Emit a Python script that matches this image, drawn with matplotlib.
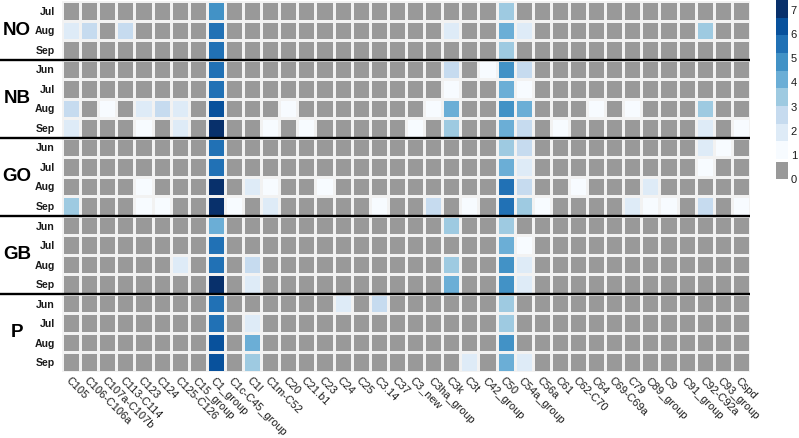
import numpy as np
import matplotlib
matplotlib.use("Agg")
import matplotlib.pyplot as plt
from matplotlib.colors import ListedColormap, BoundaryNorm
from matplotlib.transforms import blended_transform_factory

plt.rcParams['font.family'] = ['Liberation Sans', 'DejaVu Sans']

# ---------------- data ----------------
columns = ["C105", "C106-C106a", "C107a-C107b", "C113-C114", "C123", "C124",
           "C125-C126", "C15_group", "C1_group", "C1c-C45_group", "C1l", "C1m-C52",
           "C20", "C21.b1", "C23", "C24", "C25", "C3.14", "C37", "C3_new",
           "C3ha_group", "C3k", "C3t", "C42_group", "C50", "C54a_group", "C56a",
           "C61", "C62-C70", "C64", "C69-C69a", "C79", "C89_group", "C9",
           "C91_group", "C92-C92a", "C93_group", "Cspd"]

sites = ["NO", "NB", "GO", "GB", "P"]
site_months = {
    "NO": ["Jul", "Aug", "Sep"],
    "NB": ["Jun", "Jul", "Aug", "Sep"],
    "GO": ["Jun", "Jul", "Aug", "Sep"],
    "GB": ["Jun", "Jul", "Aug", "Sep"],
    "P":  ["Jun", "Jul", "Aug", "Sep"],
}

# non-zero values per row (column name -> value); all other cells are 0
NO_values = [
    {"C1_group": 4.9, "C50": 3.4},
    {"C105": 1.9, "C106-C106a": 2.7, "C113-C114": 2.7, "C1_group": 5.6, "C3k": 1.9,
     "C50": 4.1, "C54a_group": 1.9, "C92-C92a": 3.4},
    {"C1_group": 5.6, "C50": 3.4},
]
NB_values = [
    {"C1_group": 5.6, "C3k": 2.7, "C42_group": 1.2, "C50": 4.9, "C54a_group": 2.7},
    {"C1_group": 5.6, "C3k": 1.2, "C50": 4.1, "C54a_group": 1.2},
    {"C105": 2.7, "C107a-C107b": 1.2, "C123": 1.9, "C124": 2.7, "C125-C126": 1.9,
     "C1_group": 6.3, "C20": 1.2, "C3ha_group": 1.2, "C3k": 4.1, "C50": 4.9,
     "C54a_group": 4.1, "C64": 1.2, "C79": 1.2, "C92-C92a": 3.4},
    {"C105": 1.9, "C123": 1.2, "C125-C126": 1.9, "C1_group": 7.0, "C1m-C52": 1.2,
     "C21.b1": 1.2, "C3_new": 1.2, "C3k": 3.4, "C50": 4.1, "C54a_group": 2.7,
     "C61": 1.2, "C92-C92a": 1.9, "Cspd": 1.2},
]
GO_values = [
    {"C1_group": 5.6, "C50": 3.4, "C54a_group": 2.7, "C92-C92a": 1.9, "C93_group": 1.2},
    {"C1_group": 5.6, "C50": 4.1, "C54a_group": 1.9, "C92-C92a": 1.2},
    {"C123": 1.2, "C1_group": 7.0, "C1l": 1.9, "C1m-C52": 1.2, "C23": 1.2,
     "C50": 5.6, "C54a_group": 2.7, "C62-C70": 1.2, "C89_group": 1.9},
    {"C105": 3.4, "C123": 1.2, "C124": 1.2, "C1_group": 7.0, "C1c-C45_group": 1.2,
     "C1m-C52": 1.9, "C3.14": 1.2, "C3ha_group": 2.7, "C3t": 1.2, "C50": 5.6,
     "C54a_group": 3.4, "C56a": 1.2, "C79": 1.9, "C89_group": 1.2, "C9": 1.2,
     "C92-C92a": 2.7, "Cspd": 1.2},
]
GB_values = [
    {"C1_group": 4.1, "C3k": 3.4, "C50": 3.4},
    {"C1_group": 5.6, "C50": 4.1, "C54a_group": 1.2},
    {"C125-C126": 1.9, "C1_group": 5.6, "C1l": 2.7, "C3k": 3.4, "C50": 4.9,
     "C54a_group": 1.9},
    {"C1_group": 7.0, "C1l": 1.9, "C3k": 4.1, "C50": 4.9, "C54a_group": 1.9},
]
P_values = [
    {"C1_group": 5.6, "C24": 1.9, "C3.14": 2.7, "C50": 3.4},
    {"C1_group": 5.6, "C1l": 1.9, "C50": 3.4},
    {"C1_group": 6.3, "C1l": 4.1, "C50": 4.9},
    {"C1_group": 6.3, "C1l": 3.4, "C3t": 1.9, "C50": 4.1, "C54a_group": 1.9},
]
site_values = {"NO": NO_values, "NB": NB_values, "GO": GO_values,
               "GB": GB_values, "P": P_values}

colorbar_ticks = [0, 1, 2, 3, 4, 5, 6, 7]
value_min, value_max = 0.83, 7.42
blues9 = ['#f7fbff', '#deebf7', '#c6dbef', '#9ecae1', '#6baed6',
          '#4292c6', '#2171b5', '#08519c', '#08306b']
zero_color = '#999999'

# ---------------- build matrix ----------------
rows, row_labels = [], []
for s in sites:
    for m, d in zip(site_months[s], site_values[s]):
        rows.append([d.get(c, 0.0) for c in columns])
        row_labels.append(m)
M = np.array(rows)
nrow, ncol = M.shape

edges = list(np.linspace(value_min, value_max, len(blues9) + 1))
bounds = [-0.5] + edges
cmap = ListedColormap([zero_color] + blues9)
norm = BoundaryNorm(bounds, cmap.N)

W, H = 799, 438
fig = plt.figure(figsize=(W / 100, H / 100), dpi=100)

left_px, right_px, top_px, bot_px = 62, 750, 1, 372
ax = fig.add_axes([left_px / W, 1 - bot_px / H, (right_px - left_px) / W,
                   (bot_px - top_px) / H])
ax.pcolormesh(np.arange(ncol + 1), np.arange(nrow + 1), M, cmap=cmap, norm=norm,
              edgecolors='#f2f2f2', linewidth=1.0)
ax.set_xlim(0, ncol)
ax.set_ylim(nrow, 0)
for sp in ax.spines.values():
    sp.set_visible(False)

ax.set_xticks(np.arange(ncol) + 0.5)
ax.set_xticklabels(columns, rotation=-45, ha='left', va='top',
                   rotation_mode='anchor', fontsize=7.9, color='#1a1a1a')
ax.tick_params(axis='x', length=0, pad=2.5)
ax.set_yticks(np.arange(nrow) + 0.5)
ax.set_yticklabels(row_labels, fontsize=7.6, fontweight='bold', color='#1a1a1a')
ax.tick_params(axis='y', length=0, pad=5)

trans = blended_transform_factory(ax.transAxes, ax.transData)
axw = right_px - left_px
start = 0
for i, s in enumerate(sites):
    n = len(site_months[s])
    center = start + n / 2
    ax.text((17 - left_px) / axw, center, s, transform=trans, ha='center',
            va='center', fontsize=13.5, fontweight='bold', color='black')
    start += n
    if i < len(sites) - 1:
        ax.plot([(0 - left_px) / axw, 1.0], [start, start], transform=trans,
                color='black', lw=1.7, clip_on=False, solid_capstyle='butt')

# ---------------- colorbar legend ----------------
px_per_unit = 24.1
cb_top = 0
cb_h = value_max * px_per_unit
cax = fig.add_axes([776 / W, 1 - (cb_top + cb_h) / H, 12 / W, cb_h / H])
cax.set_xlim(0, 1)
cax.set_ylim(0, value_max)
cax.bar(0.5, 0.69, width=1, bottom=0, color=zero_color, linewidth=0)
for k, c in enumerate(blues9):
    cax.bar(0.5, edges[k + 1] - edges[k], width=1, bottom=edges[k], color=c,
            linewidth=0)
for sp in cax.spines.values():
    sp.set_visible(False)
cax.set_xticks([])
cax.yaxis.tick_right()
cax.set_yticks(colorbar_ticks)
cax.set_yticklabels([str(t) for t in colorbar_ticks], fontsize=8, color='#1a1a1a')
cax.tick_params(axis='y', length=0, pad=2)

fig.savefig("out.png", dpi=100)
